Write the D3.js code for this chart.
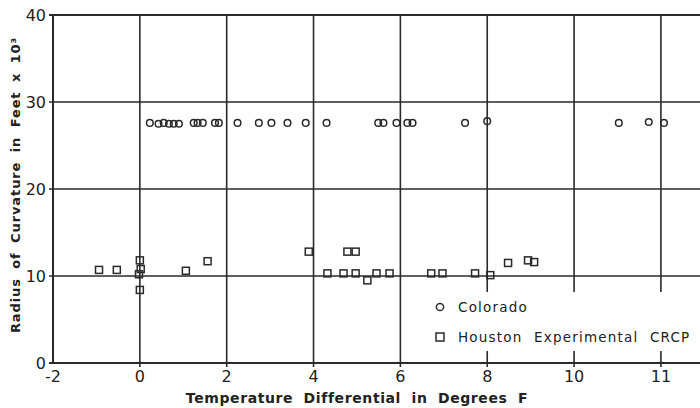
<!DOCTYPE html>
<html>
<head>
<meta charset="utf-8">
<script src="https://cdn.jsdelivr.net/npm/d3@7"></script>
<style>
  body { margin: 0; background: #fff; }
  text { font-family: "DejaVu Sans", sans-serif; fill: #222; }
</style>
</head>
<body>
<div id="chart"></div>
<script>
// Data
const xTicks = [-2, 0, 2, 4, 6, 8, 10, 12];
const xTickLabels = ["-2", "0", "2", "4", "6", "8", "10", "11"];
const yTicks = [0, 10, 20, 30, 40];

const coloradoX = [0.23, 0.43, 0.55, 0.67, 0.78, 0.9, 1.24, 1.33, 1.45, 1.73, 1.82, 2.25, 2.74, 3.03, 3.4, 3.82, 4.3,
                   5.49, 5.61, 5.91, 6.16, 6.28, 7.49, 8.0, 11.03, 11.72, 12.07];
const coloradoY = [27.6, 27.5, 27.6, 27.5, 27.5, 27.5, 27.6, 27.6, 27.6, 27.6, 27.6, 27.6, 27.6, 27.6, 27.6, 27.6, 27.6,
                   27.6, 27.6, 27.6, 27.6, 27.6, 27.6, 27.8, 27.6, 27.7, 27.6];

const houstonX = [-0.94, -0.53, 0, 0.02, -0.02, 0, 1.06, 1.56, 3.89, 4.32, 4.69, 4.78, 4.97, 4.97, 5.24, 5.45, 5.75,
                  6.71, 6.97, 7.72, 8.07, 8.48, 8.94, 9.08];
const houstonY = [10.7, 10.7, 11.8, 10.8, 10.2, 8.4, 10.6, 11.7, 12.8, 10.3, 10.3, 12.8, 12.8, 10.3, 9.5, 10.3, 10.3,
                  10.3, 10.3, 10.3, 10.1, 11.5, 11.8, 11.6];

const legendNames = ["Colorado", "Houston Experimental CRCP"];

const W = 700, H = 408;
const margin = { top: 15, right: 0, bottom: 45, left: 53 };

const svg = d3.select("#chart").append("svg")
    .attr("width", W)
    .attr("height", H);

const x = d3.scaleLinear().domain([-2, 12.9]).range([margin.left, W - margin.right]);
const y = d3.scaleLinear().domain([0, 40]).range([H - margin.bottom, margin.top]);

const ink = "#2a2a2a";

// Grid lines
svg.append("g").selectAll("line")
    .data(xTicks.slice(1))
    .join("line")
    .attr("x1", d => x(d)).attr("x2", d => x(d))
    .attr("y1", y(40)).attr("y2", y(0) + 4)
    .attr("stroke", ink).attr("stroke-width", 1.6);

svg.append("g").selectAll("line")
    .data(yTicks.slice(1))
    .join("line")
    .attr("x1", x(-2) - 4).attr("x2", W)
    .attr("y1", d => y(d)).attr("y2", d => y(d))
    .attr("stroke", ink).attr("stroke-width", d => d === 40 ? 2 : 1.6);

// Frame
svg.append("line")
    .attr("x1", x(-2)).attr("x2", x(-2))
    .attr("y1", y(40)).attr("y2", y(0))
    .attr("stroke", ink).attr("stroke-width", 2);
svg.append("line")
    .attr("x1", x(-2) - 4).attr("x2", W)
    .attr("y1", y(0)).attr("y2", y(0))
    .attr("stroke", ink).attr("stroke-width", 2.2);

// Tick labels
svg.append("g").selectAll("text")
    .data(yTicks)
    .join("text")
    .attr("x", x(-2) - 7)
    .attr("y", d => y(d))
    .attr("dy", "0.36em")
    .attr("text-anchor", "end")
    .attr("font-size", 16)
    .text(d => d);

svg.append("g").selectAll("text")
    .data(xTicks)
    .join("text")
    .attr("x", d => x(d))
    .attr("y", y(0) + 19)
    .attr("text-anchor", "middle")
    .attr("font-size", 16)
    .text((d, i) => xTickLabels[i]);

// Axis titles
svg.append("text")
    .attr("x", 357)
    .attr("y", 403)
    .attr("text-anchor", "middle")
    .attr("font-size", 14)
    .attr("font-weight", "bold")
    .attr("letter-spacing", 0.6)
    .attr("word-spacing", 5)
    .text("Temperature Differential in Degrees F");

svg.append("text")
    .attr("transform", `translate(20,${185}) rotate(-90)`)
    .attr("text-anchor", "middle")
    .attr("font-size", 13)
    .attr("font-weight", "bold")
    .attr("letter-spacing", 0.9)
    .attr("word-spacing", 4)
    .text("Radius of Curvature in Feet x 10³");

// Legend background (breaks the grid lines)
svg.append("rect")
    .attr("x", 425).attr("y", 292)
    .attr("width", W - 425).attr("height", 59)
    .attr("fill", "#fff");

// Colorado points
svg.append("g").selectAll("circle")
    .data(coloradoX)
    .join("circle")
    .attr("cx", d => x(d))
    .attr("cy", (d, i) => y(coloradoY[i]))
    .attr("r", 3.3)
    .attr("fill", "none")
    .attr("stroke", ink)
    .attr("stroke-width", 1.5);

// Houston points
const s = 7;
svg.append("g").selectAll("rect")
    .data(houstonX)
    .join("rect")
    .attr("x", d => x(d) - s / 2)
    .attr("y", (d, i) => y(houstonY[i]) - s / 2)
    .attr("width", s).attr("height", s)
    .attr("fill", "none")
    .attr("stroke", ink)
    .attr("stroke-width", 1.5);

// Legend
const legY = [307, 337];
svg.append("circle")
    .attr("cx", 440).attr("cy", legY[0]).attr("r", 3.6)
    .attr("fill", "none").attr("stroke", ink).attr("stroke-width", 1.5);
svg.append("rect")
    .attr("x", 436).attr("y", legY[1] - 4).attr("width", 8).attr("height", 8)
    .attr("fill", "none").attr("stroke", ink).attr("stroke-width", 1.5);

svg.append("g").selectAll("text")
    .data(legendNames)
    .join("text")
    .attr("x", 458)
    .attr("y", (d, i) => legY[i])
    .attr("dy", "0.36em")
    .attr("font-size", 13.5)
    .attr("letter-spacing", 1.2)
    .attr("word-spacing", 6)
    .text(d => d);
</script>
</body>
</html>
